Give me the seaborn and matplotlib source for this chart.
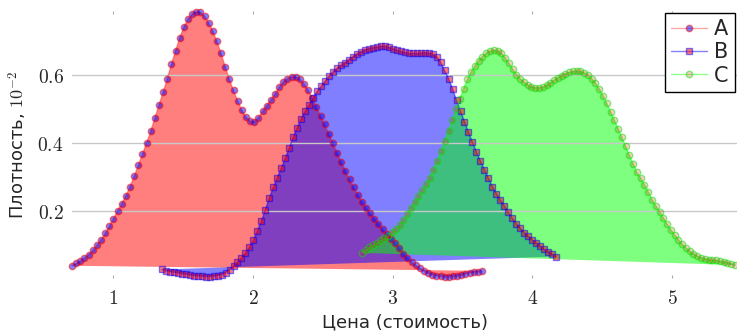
import numpy as np
import pandas as pd
import matplotlib
matplotlib.use("Agg")
import matplotlib.pyplot as plt
import seaborn as sns
from matplotlib.ticker import FuncFormatter

# ---------------- data ----------------
series_names = ["A", "B", "C"]

a_x_start, a_x_end = 0.705, 3.640
a_y = [0.039, 0.046, 0.053, 0.062, 0.072, 0.084, 0.099, 0.115, 0.134, 0.155,
       0.178, 0.200, 0.222, 0.245, 0.272, 0.302, 0.335, 0.368, 0.400, 0.435,
       0.474, 0.512, 0.550, 0.590, 0.632, 0.672, 0.710, 0.742, 0.765, 0.780,
       0.787, 0.785, 0.774, 0.755, 0.730, 0.700, 0.664, 0.625, 0.588, 0.555,
       0.525, 0.497, 0.477, 0.465, 0.463, 0.475, 0.494, 0.510, 0.527, 0.545,
       0.565, 0.580, 0.590, 0.596, 0.595, 0.588, 0.575, 0.557, 0.533, 0.507,
       0.480, 0.455, 0.428, 0.400, 0.372, 0.345, 0.318, 0.293, 0.270, 0.248,
       0.228, 0.210, 0.193, 0.178, 0.163, 0.146, 0.133, 0.119, 0.105, 0.090,
       0.075, 0.062, 0.051, 0.040, 0.031, 0.023, 0.017, 0.013, 0.010, 0.008,
       0.007, 0.007, 0.008, 0.010, 0.012, 0.015, 0.018, 0.020, 0.022, 0.024]

b_x_start, b_x_end = 1.348, 4.170
b_y = [0.028, 0.025, 0.022, 0.020, 0.018, 0.016, 0.014, 0.012, 0.010, 0.009,
       0.008, 0.007, 0.007, 0.008, 0.010, 0.013, 0.019, 0.027, 0.037, 0.049,
       0.061, 0.076, 0.093, 0.114, 0.142, 0.170, 0.204, 0.238, 0.270, 0.298,
       0.326, 0.355, 0.385, 0.418, 0.445, 0.472, 0.494, 0.512, 0.532, 0.552,
       0.567, 0.582, 0.597, 0.610, 0.620, 0.629, 0.637, 0.646, 0.655, 0.662,
       0.669, 0.674, 0.678, 0.681, 0.683, 0.685, 0.685, 0.682, 0.678, 0.674,
       0.670, 0.667, 0.664, 0.664, 0.664, 0.665, 0.666, 0.665, 0.662, 0.654,
       0.638, 0.614, 0.590, 0.560, 0.526, 0.494, 0.463, 0.432, 0.402, 0.374,
       0.347, 0.322, 0.296, 0.272, 0.251, 0.232, 0.215, 0.196, 0.179, 0.163,
       0.149, 0.136, 0.126, 0.115, 0.106, 0.096, 0.087, 0.080, 0.073, 0.066]

c_x_start, c_x_end = 2.780, 5.450
c_y = [0.077, 0.085, 0.093, 0.100, 0.107, 0.114, 0.120, 0.127, 0.137, 0.148,
       0.159, 0.173, 0.190, 0.209, 0.227, 0.245, 0.262, 0.279, 0.298, 0.322,
       0.348, 0.376, 0.406, 0.437, 0.468, 0.500, 0.530, 0.560, 0.588, 0.610,
       0.628, 0.643, 0.655, 0.665, 0.671, 0.674, 0.672, 0.665, 0.652, 0.636,
       0.618, 0.602, 0.590, 0.580, 0.572, 0.566, 0.563, 0.563, 0.565, 0.571,
       0.578, 0.586, 0.593, 0.599, 0.604, 0.608, 0.611, 0.612, 0.611, 0.607,
       0.600, 0.590, 0.577, 0.560, 0.540, 0.517, 0.493, 0.468, 0.443, 0.417,
       0.391, 0.365, 0.339, 0.314, 0.297, 0.277, 0.257, 0.234, 0.216, 0.198,
       0.180, 0.162, 0.145, 0.130, 0.116, 0.103, 0.092, 0.082, 0.074, 0.068,
       0.063, 0.060, 0.057, 0.056, 0.055, 0.053, 0.051, 0.048, 0.045, 0.041]

x_ticks = [1, 2, 3, 4, 5]
y_ticks = [0.2, 0.4, 0.6]
x_label = "Цена (стоимость)"
y_label = "Плотность, $10^{-2}$"

# evenly spaced evaluation grid of each density curve
a_x = np.linspace(a_x_start, a_x_end, len(a_y))
b_x = np.linspace(b_x_start, b_x_end, len(b_y))
c_x = np.linspace(c_x_start, c_x_end, len(c_y))

df = pd.concat([
    pd.DataFrame({"x": a_x, "y": a_y, "s": "A"}),
    pd.DataFrame({"x": b_x, "y": b_y, "s": "B"}),
    pd.DataFrame({"x": c_x, "y": c_y, "s": "C"}),
], ignore_index=True)

# ---------------- style ----------------
sns.set_style("white")
plt.rcParams["font.family"] = ["DejaVu Sans"]
plt.rcParams["mathtext.fontset"] = "cm"

fig = plt.figure(figsize=(7.37, 3.32), dpi=100)
ax = fig.add_axes([0.0977, 0.1627, 0.9023, 0.8042])

styles = {
    "A": dict(fill=(1, 0, 0), line=(1, 0, 0, 0.35), marker="o",
              mfc=(0, 0, 1, 0.5), mec=(1, 0, 0, 0.5), ms=4.6),
    "B": dict(fill=(0, 0, 1), line=(0, 0, 1, 0.5), marker="s",
              mfc=(1, 0, 0, 0.5), mec=(0, 0, 1, 0.5), ms=4.2),
    "C": dict(fill=(0, 1, 0), line=(0, 1, 0, 0.45), marker="o",
              mfc=(1, 0, 0, 0.2), mec=(0, 0.9, 0, 0.5), ms=4.6),
}

# filled regions (closed polygon between first and last sample)
for name in series_names:
    d = df[df["s"] == name]
    ax.fill(d["x"], d["y"], color=styles[name]["fill"], alpha=0.5, lw=0, zorder=1)

# grid drawn over the fills
ax.set_axisbelow(False)
ax.grid(axis="y", color="#c8c8c8", linewidth=1.0, zorder=1.5)
ax.grid(axis="x", visible=False)
for gl in ax.get_ygridlines():
    gl.set_zorder(1.5)

# lines with markers via seaborn
for name in series_names:
    d = df[df["s"] == name]
    st = styles[name]
    sns.lineplot(data=d, x="x", y="y", ax=ax, color=st["line"], linewidth=1.0,
                 marker=st["marker"], markersize=st["ms"],
                 markerfacecolor=st["mfc"], markeredgecolor=st["mec"],
                 markeredgewidth=1.0, label=name, zorder=3, sort=False,
                 estimator=None, clip_on=False)

ax.set_xlim(0.705, 5.465)
ax.set_ylim(0.003, 0.789)
ax.set_xticks(x_ticks)
ax.set_yticks(y_ticks)
ax.xaxis.set_major_formatter(FuncFormatter(lambda v, p: f"${v:g}$"))
ax.yaxis.set_major_formatter(FuncFormatter(lambda v, p: f"${v:g}$"))
ax.tick_params(axis="x", which="both", direction="in", length=2, width=0.8,
               color="#aaaaaa", top=True, bottom=True, labelsize=14, pad=8)
ax.tick_params(axis="y", length=0, labelsize=14, pad=6)

for sp in ax.spines.values():
    sp.set_visible(False)

ax.set_xlabel(x_label, fontsize=13, labelpad=4)
ax.set_ylabel(y_label, fontsize=13, labelpad=6)

leg = ax.legend(loc="upper right", fontsize=15, frameon=True, fancybox=False,
                edgecolor="black", framealpha=1.0, handlelength=1.7,
                handletextpad=0.35, labelspacing=0.15, borderpad=0.3,
                borderaxespad=0.1)
leg.get_frame().set_linewidth(1.0)
leg.set_zorder(10)

fig.savefig("out.png", dpi=100)
